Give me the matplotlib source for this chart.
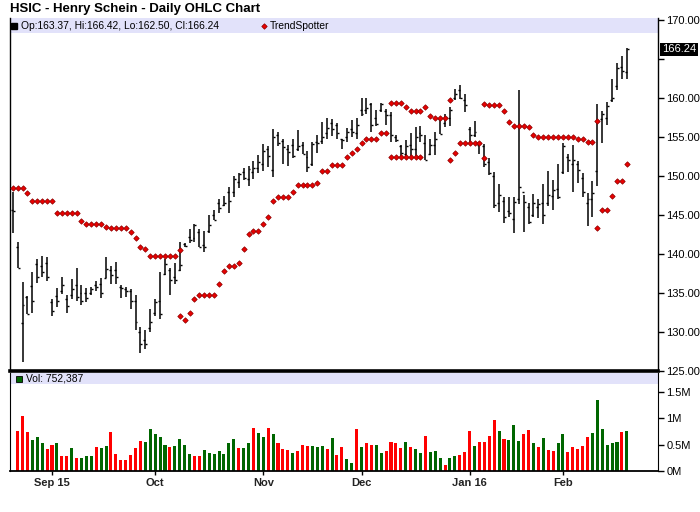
import matplotlib
matplotlib.use('Agg')
import matplotlib.pyplot as plt
from matplotlib.lines import Line2D
from matplotlib.transforms import blended_transform_factory
import numpy as np
import pandas as pd

plt.rcParams['font.family'] = ['Liberation Sans', 'DejaVu Sans']

# trading days, Aug 20 2015 .. Feb 19 2016 (NYSE holidays skipped)
holidays = ['2015-09-07', '2015-11-26', '2015-12-25', '2016-01-01', '2016-01-18', '2016-02-15']
dates = pd.bdate_range('2015-08-20', '2016-02-19', freq='C', holidays=holidays)

opens = [145.6, 140.85, 131.1, 134.5, 135.9, 138.7, 138.5, 138.9, 133.8, 134.6,
         135.2, 134.2, 134.8, 136.0, 135.0, 135.0, 135.0, 136.0, 136.2, 136.9,
         138.0, 138.0, 135.8, 135.5, 135.3, 134.0, 130.0, 129.0, 130.5, 132.5,
         134.0, 137.5, 138.0, 137.0, 138.0, 141.3, 142.2, 142.0, 142.8, 141.2,
         143.0, 145.0, 146.5, 146.3, 148.0, 148.0, 149.2, 150.5, 149.6, 150.5,
         151.0, 151.5, 153.5, 150.8, 155.3, 154.5, 153.5, 154.0, 153.5, 154.0,
         152.5, 151.5, 154.3, 154.5, 155.5, 156.8, 156.5, 154.8, 155.0, 156.0,
         155.5, 158.5, 158.5, 159.2, 157.5, 158.5, 158.3, 157.8, 155.0, 153.8,
         152.8, 154.0, 153.4, 155.5, 154.2, 152.8, 154.0, 157.3, 156.8, 157.5,
         160.0, 161.0, 159.8, 156.0, 155.2, 154.0, 153.8, 151.8, 150.0, 146.5,
         146.8, 145.5, 144.5, 147.0, 148.0, 146.0, 145.0, 146.0, 146.5, 146.5,
         147.5, 148.3, 150.5, 152.5, 151.5, 151.5, 149.8, 146.5, 147.0, 150.6,
         157.3, 157.5, 159.8, 161.5, 164.0, 163.37]
highs = [147.9, 141.5, 136.45, 134.6, 137.65, 139.3, 139.7, 139.6, 134.2, 135.6,
         137.0, 134.7, 136.8, 138.2, 136.0, 135.7, 135.8, 136.5, 136.9, 139.6,
         138.4, 139.0, 136.0, 135.8, 135.55, 134.7, 130.6, 130.2, 132.9, 134.2,
         137.7, 139.4, 138.2, 138.8, 141.5, 141.45, 143.2, 143.8, 143.2, 142.9,
         145.0, 145.6, 147.05, 147.5, 148.55, 150.0, 150.4, 151.0, 151.3, 151.9,
         152.7, 154.1, 153.85, 156.0, 155.6, 154.8, 154.0, 154.8, 155.9, 154.4,
         153.2, 154.3, 155.25, 156.9, 157.4, 157.3, 156.8, 154.8, 156.1, 157.2,
         157.4, 160.0, 160.0, 159.4, 158.5, 159.4, 158.55, 158.25, 155.25, 154.0,
         154.6, 155.55, 156.3, 156.4, 155.25, 154.7, 155.7, 157.5, 157.9, 158.8,
         161.1, 161.65, 160.5, 156.25, 157.0, 154.4, 154.1, 152.3, 150.55, 149.0,
         147.35, 147.25, 147.25, 161.0, 147.55, 146.6, 147.7, 147.0, 149.0, 150.7,
         149.5, 151.6, 154.2, 152.8, 154.0, 151.9, 150.35, 147.8, 149.3, 159.2,
         158.3, 159.45, 162.5, 164.5, 165.4, 166.42]
lows = [142.65, 138.2, 126.2, 132.3, 132.5, 136.3, 137.0, 136.5, 132.1, 133.2,
        134.9, 132.5, 134.2, 134.0, 133.5, 133.9, 134.7, 135.2, 134.4, 136.9,
        136.2, 136.1, 134.3, 134.5, 132.95, 130.3, 127.3, 127.8, 130.0, 132.1,
        131.7, 137.3, 134.8, 136.1, 137.8, 140.85, 141.45, 141.6, 140.85, 140.2,
        142.65, 144.35, 145.2, 146.1, 145.2, 147.35, 148.5, 149.5, 148.7, 149.6,
        150.4, 150.7, 151.2, 149.9, 153.9, 151.6, 151.3, 152.35, 153.25, 152.8,
        150.5, 151.3, 153.0, 154.1, 154.7, 155.1, 154.7, 153.4, 154.3, 155.0,
        154.8, 157.7, 158.0, 155.7, 156.4, 158.25, 156.5, 154.3, 154.3, 152.25,
        152.25, 152.55, 152.55, 154.3, 152.1, 152.65, 152.7, 155.4, 156.3, 156.4,
        159.75, 159.9, 158.2, 154.05, 155.0, 152.8, 151.2, 150.1, 145.85, 145.4,
        144.0, 144.7, 142.65, 146.4, 142.8, 143.85, 144.7, 144.6, 143.85, 146.15,
        145.7, 147.0, 150.25, 150.5, 148.0, 149.15, 147.35, 143.6, 144.8, 148.7,
        154.2, 156.6, 159.45, 161.0, 162.45, 162.50]
closes = [145.5, 138.2, 133.5, 132.3, 134.0, 137.0, 137.65, 137.0, 132.7, 134.0,
          136.0, 133.3, 135.5, 134.5, 134.0, 134.4, 135.5, 135.8, 135.0, 138.1,
          137.3, 137.0, 135.6, 135.3, 134.0, 131.3, 128.5, 128.5, 131.3, 133.8,
          132.3, 138.7, 136.7, 136.7, 138.6, 141.0, 141.75, 143.7, 140.9, 140.85,
          143.7, 144.4, 145.9, 146.5, 146.8, 149.6, 150.2, 149.7, 150.9, 151.0,
          151.75, 153.2, 152.55, 155.0, 154.2, 153.7, 153.1, 152.6, 153.9, 152.8,
          151.1, 154.1, 154.2, 155.0, 156.2, 156.0, 155.5, 154.6, 155.6, 155.6,
          156.5, 157.9, 158.7, 156.5, 156.7, 159.2, 157.8, 155.25, 154.6, 153.0,
          153.85, 153.5, 155.0, 155.2, 152.1, 154.0, 154.8, 155.4, 157.6, 158.5,
          160.5, 160.0, 159.1, 155.25, 155.7, 154.2, 151.6, 150.4, 146.3, 147.6,
          144.8, 145.3, 146.7, 148.6, 146.7, 144.1, 146.5, 146.4, 145.0, 147.6,
          148.2, 147.35, 153.9, 152.05, 152.05, 150.8, 148.0, 147.1, 147.8, 157.0,
          157.9, 159.0, 160.0, 163.9, 163.5, 166.24]

# volume in millions of shares (first bar has no volume bar on the chart)
volume = [None, 0.75, 1.04, 0.73, 0.59, 0.65, 0.535, 0.42, 0.50, 0.52,
          0.29, 0.29, 0.44, 0.25, 0.25, 0.29, 0.29, 0.46, 0.44, 0.48,
          0.73, 0.32, 0.21, 0.21, 0.31, 0.44, 0.57, 0.55, 0.80, 0.69,
          0.65, 0.50, 0.46, 0.48, 0.61, 0.50, 0.32, 0.29, 0.29, 0.40,
          0.34, 0.32, 0.38, 0.32, 0.52, 0.61, 0.44, 0.44, 0.535, 0.82,
          0.71, 0.65, 0.82, 0.69, 0.52, 0.42, 0.40, 0.34, 0.38, 0.50,
          0.48, 0.48, 0.46, 0.48, 0.42, 0.63, 0.31, 0.46, 0.23, 0.15,
          0.80, 0.46, 0.52, 0.50, 0.50, 0.34, 0.38, 0.55, 0.52, 0.44,
          0.55, 0.46, 0.42, 0.34, 0.67, 0.36, 0.38, 0.25, 0.11, 0.25,
          0.29, 0.31, 0.36, 0.75, 0.48, 0.55, 0.55, 0.67, 0.96, 0.76,
          0.61, 0.59, 0.86, 0.57, 0.69, 0.78, 0.535, 0.46, 0.63, 0.40,
          0.38, 0.535, 0.69, 0.36, 0.46, 0.42, 0.48, 0.65, 0.71, 1.34,
          0.80, 0.50, 0.535, 0.55, 0.73, 0.752387]
# u = up day (green), d = down day (red)
vol_dir = ("dddduuuddu" "dduduuuduu" "ddddddduuu" "uuduuuuddu" "uuuuuuduud"
           "uududddudd" "duuududduu" "dudduudddd" "uduuduuudu" "uddduddddu"
           "duuuddudud" "duuddddduu" "uuuudu")

# TrendSpotter dots: (first bar index, values)
ts_upper = [
    (0, [148.4, 148.4, 148.4, 147.8, 146.75, 146.75, 146.75, 146.75, 146.75,
         145.2, 145.2, 145.2, 145.2, 145.2, 144.2, 143.85, 143.85, 143.85, 143.85,
         143.4, 143.3, 143.3, 143.3, 143.3, 142.8, 142.0, 140.85, 140.6,
         139.8, 139.8, 139.8, 139.8, 139.8, 139.7, 140.45]),
    (77, [159.3, 159.3, 159.3, 158.8, 158.3, 158.3, 158.3, 158.9, 157.65,
          157.5, 157.5, 157.5, 159.8]),
    (96, [159.2, 159.1, 159.1, 159.1, 158.4, 156.9, 156.4, 156.4, 156.4, 156.25,
          155.3, 155.0, 155.0, 155.0, 155.0, 155.0, 155.0, 155.0, 155.0,
          154.7, 154.7, 154.3, 154.3, 157.1]),
]
ts_lower = [
    (34, [132.1, 131.5, 132.4, 134.2, 134.7, 134.7, 134.7, 134.7, 136.1, 137.8,
          138.5, 138.5, 138.8, 140.7, 142.6, 143.0, 143.0, 143.8, 144.8, 146.75,
          147.3, 147.3, 147.3, 147.9, 148.9, 148.9, 148.9, 148.9, 149.05,
          150.7, 150.7, 151.4, 151.4, 151.4, 152.4, 153.0, 153.4, 154.2,
          154.7, 154.7, 154.8, 155.5, 155.5, 152.4, 152.5, 152.5, 152.5,
          152.5, 152.5, 152.5]),
    (89, [152.0, 153.0, 154.2, 154.2, 154.2, 154.2, 154.2, 152.3]),
    (119, [143.3, 145.7, 145.7, 147.4, 149.3, 149.3, 151.6]),
]

month_labels = ['Sep 15', 'Oct', 'Nov', 'Dec', 'Jan 16', 'Feb']
price_ticks = [125, 130, 135, 140, 145, 150, 155, 160, 165, 170]
vol_ticks = [0, 0.5, 1, 1.5]
vol_tick_labels = ['0M', '0.5M', '1M', '1.5M']

W, H = 700, 512
fig = plt.figure(figsize=(W / 100, H / 100), dpi=100)
fig.patch.set_facecolor('white')


def px_axes(left, top, right, bottom):
    return fig.add_axes([left / W, 1 - bottom / H, (right - left) / W, (bottom - top) / H])


ax = px_axes(10, 18, 658, 371)
axv = px_axes(10, 373, 658, 471)

x = np.arange(len(dates))
xlim = (-0.55, 131.35)

# price panel
ax.vlines(x, lows, highs, color='black', lw=1.1)
ax.hlines(opens, x - 0.4, x, color='black', lw=1.0)
ax.hlines(closes, x, x + 0.4, color='black', lw=1.0)

for series in (ts_upper, ts_lower):
    for start, vals in series:
        xs = np.arange(start, start + len(vals))
        ax.plot(xs, vals, ls='none', marker='D', ms=2.8, mfc='#e80000',
                mec='#8a0000', mew=0.5, zorder=3)

ax.set_xlim(*xlim)
ax.set_ylim(125, 170.26)
ax.set_xticks([])
ax.yaxis.tick_right()
ax.set_yticks(price_ticks)
ax.set_yticklabels(['%.2f' % p if p != 165 else '' for p in price_ticks])
ax.tick_params(axis='y', direction='out', length=4, width=1, pad=2, labelsize=8)
ax.spines['top'].set_visible(False)
ax.spines['bottom'].set_linewidth(2.6)
ax.spines['left'].set_linewidth(1)
ax.spines['right'].set_linewidth(1)
ax.axhspan(168.35, 170.26, color='#e2e2fa', lw=0, zorder=0)

tr = blended_transform_factory(ax.transAxes, ax.transData)
ax.text(1.006, closes[-1], '%.2f' % closes[-1], transform=tr, color='white',
        fontsize=8, va='center', ha='left',
        bbox=dict(facecolor='black', edgecolor='none', pad=1.2))

# volume panel
vols = np.array([np.nan if v is None else v for v in volume])
cols = ['#006600' if d == 'u' else '#ff0000' for d in vol_dir]
axv.bar(x, vols, width=0.62, color=cols, lw=0)
axv.set_xlim(*xlim)
axv.set_ylim(0, 1.85)
axv.yaxis.tick_right()
axv.set_yticks(vol_ticks)
axv.set_yticklabels(vol_tick_labels)
axv.tick_params(axis='y', direction='out', length=4, width=1, pad=2, labelsize=8)
month_starts = [i for i in range(1, len(dates)) if dates[i].month != dates[i - 1].month]
axv.set_xticks(month_starts)
axv.set_xticklabels(month_labels, fontweight='bold', fontsize=8, color='#222222')
axv.tick_params(axis='x', direction='out', length=3, width=1, pad=2)
axv.spines['top'].set_visible(False)
axv.spines['bottom'].set_linewidth(1.3)
axv.axhspan(1.64, 1.85, color='#e2e2fa', lw=0, zorder=0)

# title and legend rows
fig.text(10 / W, 1 - 9 / H, 'HSIC - Henry Schein - Daily OHLC Chart',
         fontsize=9.5, fontweight='bold', va='center', ha='left')
fig.add_artist(Line2D([14.5 / W], [1 - 26 / H], marker='s', ms=4.5, color='black',
                      transform=fig.transFigure))
fig.text(21 / W, 1 - 26 / H,
         'Op:%.2f, Hi:%.2f, Lo:%.2f, Cl:%.2f' % (opens[-1], highs[-1], lows[-1], closes[-1]),
         fontsize=7.4, va='center', ha='left')
fig.add_artist(Line2D([264 / W], [1 - 26 / H], marker='D', ms=2.8, mfc='#e80000',
                      mec='#8a0000', mew=0.5, transform=fig.transFigure))
fig.text(270 / W, 1 - 26 / H, 'TrendSpotter', fontsize=7.4, va='center', ha='left')

fig.add_artist(Line2D([19 / W], [1 - 378.5 / H], marker='s', ms=4.5, mfc='#006600',
                      mec='black', mew=0.6, transform=fig.transFigure))
fig.text(26 / W, 1 - 378.5 / H, 'Vol: {:,}'.format(int(round(volume[-1] * 1e6))),
         fontsize=7.4, va='center', ha='left')

fig.savefig('out.png', dpi=100)
